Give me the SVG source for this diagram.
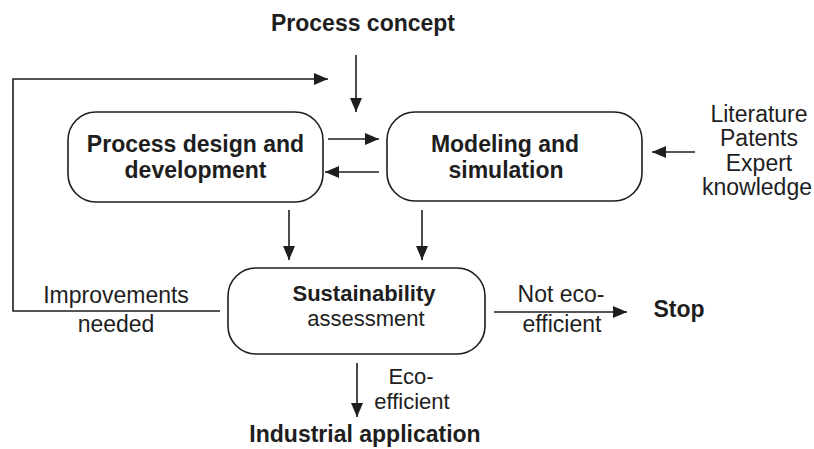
<svg xmlns="http://www.w3.org/2000/svg" width="814" height="449" viewBox="0 0 814 449">
<defs>
<style>
.t{font-family:"Liberation Sans",Arial,Helvetica,sans-serif;font-size:23px;fill:#1e1e1e;text-anchor:middle}
.s{font-size:22px}
.b{font-weight:bold}
.box{fill:#fff;stroke:#1e1e1e;stroke-width:1.6}
.ln{fill:none;stroke:#1e1e1e;stroke-width:1.6}
</style>
<marker id="ah" markerUnits="userSpaceOnUse" markerWidth="16" markerHeight="14" refX="14" refY="6" orient="auto">
<path d="M0,0 L14,6 L0,12 z" fill="#1e1e1e"/>
</marker>
</defs>
<rect width="814" height="449" fill="#fff"/>
<g id="connectors">
<polyline class="ln" points="220,311 13,311 13,79 328,79" marker-end="url(#ah)"/>
<line class="ln" x1="356" y1="55" x2="356" y2="112" marker-end="url(#ah)"/>
<line class="ln" x1="328" y1="139" x2="379" y2="139" marker-end="url(#ah)"/>
<line class="ln" x1="379" y1="172" x2="325" y2="172" marker-end="url(#ah)"/>
<line class="ln" x1="695" y1="152" x2="652" y2="152" marker-end="url(#ah)"/>
<line class="ln" x1="289" y1="210" x2="289" y2="260" marker-end="url(#ah)"/>
<line class="ln" x1="422" y1="210" x2="422" y2="260" marker-end="url(#ah)"/>
<line class="ln" x1="357" y1="363" x2="357" y2="417" marker-end="url(#ah)"/>
<line class="ln" x1="494" y1="312" x2="627" y2="312" marker-end="url(#ah)"/>
</g>
<g id="process-concept"><text class="t b" x="363" y="31">Process concept</text></g>
<g id="design">
<rect class="box" x="68" y="112" width="255" height="90" rx="28"/>
<text class="t b" x="195.5" y="152">Process design and</text>
<text class="t b" x="195.5" y="178">development</text>
</g>
<g id="modeling">
<rect class="box" x="387" y="112" width="255" height="89" rx="28"/>
<text class="t b" x="505" y="152">Modeling and</text>
<text class="t b" x="506" y="178">simulation</text>
</g>
<g id="sources">
<text class="t" x="759" y="121.5">Literature</text>
<text class="t" x="759" y="146">Patents</text>
<text class="t" x="759" y="170.5">Expert</text>
<text class="t" x="757" y="195">knowledge</text>
</g>
<g id="sustainability">
<rect class="box" x="228" y="268" width="257" height="86" rx="28"/>
<text class="t b s" x="364" y="300.5">Sustainability</text>
<text class="t s" x="366" y="326">assessment</text>
</g>
<g id="labels">
<text class="t" x="116" y="303">Improvements</text>
<text class="t" x="116" y="332">needed</text>
<text class="t" x="561" y="302">Not eco-</text>
<text class="t" x="562" y="332">efficient</text>
<text class="t s" x="411" y="383.5">Eco-</text>
<text class="t s" x="412" y="409">efficient</text>
</g>
<g id="stop"><text class="t b" x="679" y="317">Stop</text></g>
<g id="industrial"><text class="t b" x="365" y="442">Industrial application</text></g>
</svg>
